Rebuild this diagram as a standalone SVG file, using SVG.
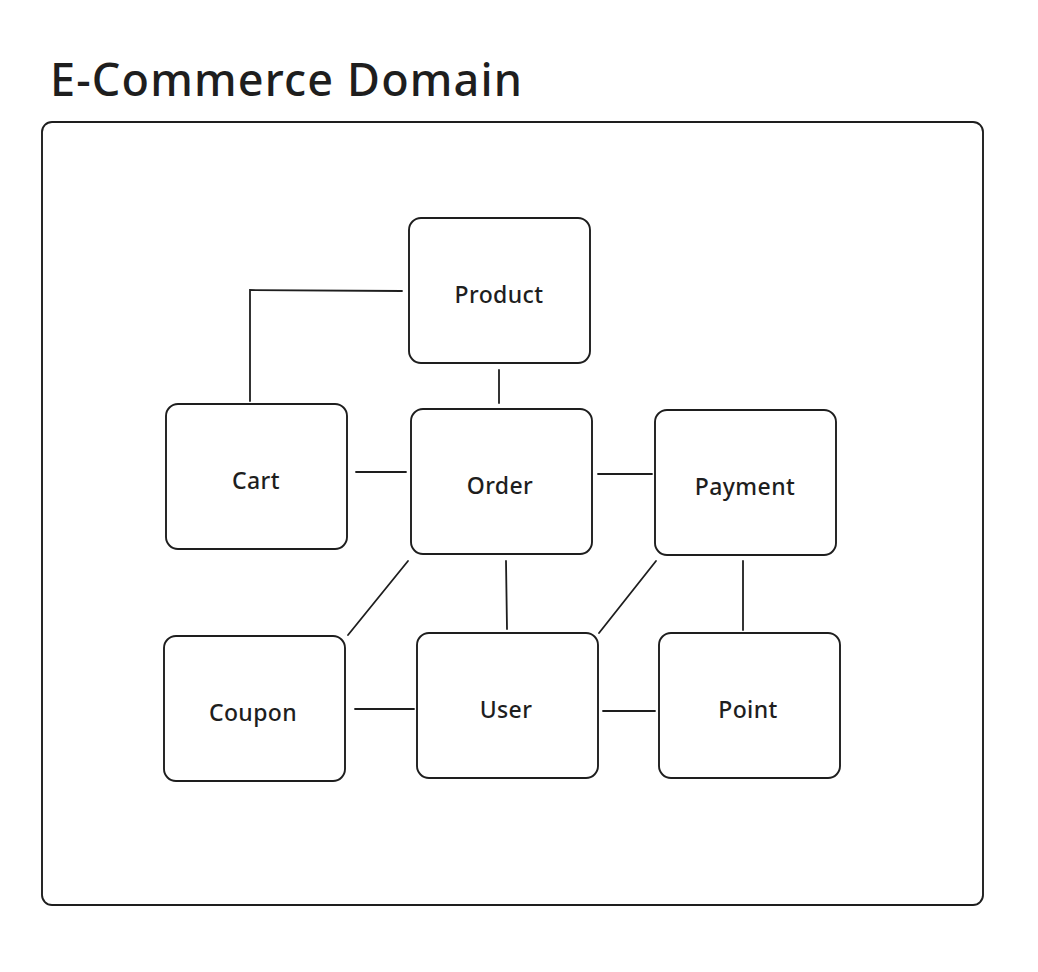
<svg xmlns="http://www.w3.org/2000/svg" width="1038" height="972" viewBox="0 0 1038 972">
<style>
.box{fill:#ffffff;stroke:#1e1e1e;stroke-width:1.9}
.lbl{font-family:"Noto Sans","Liberation Sans",sans-serif;font-size:23px;font-weight:500;letter-spacing:0.4px;fill:#1e1e1e;text-anchor:middle;dominant-baseline:central}
.title{font-family:"Noto Sans","Liberation Sans",sans-serif;font-size:45px;font-weight:500;fill:#1e1e1e}
.edge{fill:none;stroke:#1e1e1e;stroke-width:1.8;stroke-linecap:round}
</style>
<rect width="1038" height="972" fill="#ffffff"/>
<text class="title" x="50" y="96" textLength="472" lengthAdjust="spacing">E-Commerce Domain</text>
<g id="frame"><rect class="box" x="42" y="122" width="941" height="783" rx="10"/></g>
<g id="connectors">
<polyline class="edge" points="402,291 250,290 250,401"/>
<line class="edge" x1="499" y1="370" x2="499" y2="403"/>
<line class="edge" x1="356" y1="472" x2="406" y2="472"/>
<line class="edge" x1="598" y1="474" x2="652" y2="474"/>
<line class="edge" x1="408" y1="561" x2="348" y2="635"/>
<line class="edge" x1="506" y1="561" x2="507" y2="629"/>
<line class="edge" x1="656" y1="561" x2="599" y2="633"/>
<line class="edge" x1="743" y1="561" x2="743" y2="630"/>
<line class="edge" x1="355" y1="709" x2="414" y2="709"/>
<line class="edge" x1="603" y1="711" x2="655" y2="711"/>
</g>
<g id="product"><rect class="box" x="409" y="218" width="181" height="145" rx="12"/><text class="lbl" x="499" y="294">Product</text></g>
<g id="cart"><rect class="box" x="166" y="404" width="181" height="145" rx="12"/><text class="lbl" x="256" y="480">Cart</text></g>
<g id="order"><rect class="box" x="411" y="409" width="181" height="145" rx="12"/><text class="lbl" x="500" y="485">Order</text></g>
<g id="payment"><rect class="box" x="655" y="410" width="181" height="145" rx="12"/><text class="lbl" x="745" y="486">Payment</text></g>
<g id="coupon"><rect class="box" x="164" y="636" width="181" height="145" rx="12"/><text class="lbl" x="253" y="712">Coupon</text></g>
<g id="user"><rect class="box" x="417" y="633" width="181" height="145" rx="12"/><text class="lbl" x="506" y="709">User</text></g>
<g id="point"><rect class="box" x="659" y="633" width="181" height="145" rx="12"/><text class="lbl" x="748" y="709">Point</text></g>
</svg>
